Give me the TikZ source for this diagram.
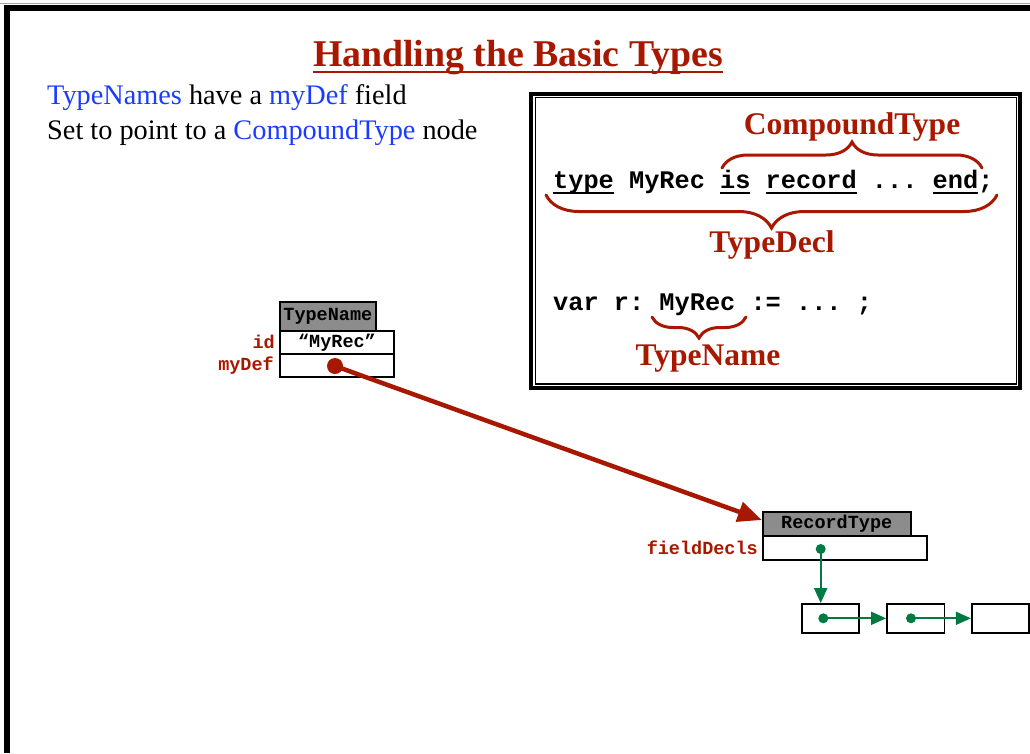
\documentclass[tikz,border=0pt]{standalone}
\usepackage{fontspec}
\setmainfont{Liberation Serif}
\setmonofont{Liberation Mono}
\usetikzlibrary{arrows.meta,decorations.pathreplacing,calc}
\definecolor{hred}{RGB}{168,24,0}
\definecolor{hblue}{RGB}{26,60,255}
\definecolor{hgreen}{RGB}{0,122,64}
\definecolor{hgrey}{RGB}{140,140,140}
\newcommand{\fieldfont}{\ttfamily\bfseries\fontsize{18.5}{20}\selectfont}
\newcommand{\codefont}{\ttfamily\bfseries\fontsize{25.3}{27}\selectfont}
\newcommand{\bracefont}{\bfseries\fontsize{31.5}{33}\selectfont}
\begin{document}
\begin{tikzpicture}[x=1pt,y=-1pt,
  field/.style={draw=black,line width=1.8pt,fill=white,inner sep=0pt,font=\fieldfont},
  header/.style={field,fill=hgrey},
  fieldlabel/.style={anchor=east,inner sep=0pt,text=hred,font=\fieldfont},
  listbox/.style={draw=black,line width=1.8pt,fill=white,inner sep=0pt,minimum width=57.5pt,minimum height=29pt},
  gdot/.style={circle,fill=hgreen,inner sep=0pt,minimum size=10pt},
  garrow/.style={draw=hgreen,line width=2pt,-{Triangle[length=15pt,width=13pt]}},
  bracestyle/.style={draw=hred,line width=3pt,line cap=round,decorate},
  bracelabel/.style={anchor=base,inner sep=0pt,text=hred,font=\bracefont},
  codeline/.style={anchor=base west,inner sep=0pt,font=\codefont},
  uline/.style={line width=1.7pt}
]
\useasboundingbox (0,0) rectangle (1030,753);

% page frame
\draw[gray!70,line width=1pt] (0,3.5) -- (1030,3.5);
\draw[line width=6pt] (6.5,753) -- (6.5,8) -- (1030,8);

% title
\node[anchor=base,inner sep=0pt,text=hred,font=\bfseries\fontsize{37.8}{40}\selectfont] (title) at (518,66) {Handling the Basic Types};
\draw[hred,line width=2pt] ([yshift=-5.5pt]title.base west) -- ([yshift=-5.5pt]title.base east);

% body text
\node[anchor=base west,inner sep=0pt,font=\fontsize{28.3}{30}\selectfont] (line1) at (47,104)
  {\textcolor{hblue}{TypeNames} have a \textcolor{hblue}{myDef} field};
\node[anchor=base west,inner sep=0pt,font=\fontsize{28.3}{30}\selectfont] (line2) at (47,139)
  {Set to point to a \textcolor{hblue}{CompoundType} node};

% code box
\draw[line width=4pt] (531.3,93.7) rectangle (1020,388);
\draw[line width=1.6pt] (535.5,97.5) rectangle (1016.5,384);

\node[codeline] (code1) at (553,188) {type MyRec is record ... end;};
\node[codeline] (code2) at (553,310) {var r: MyRec := ... ;};
% underlined keywords (character cells of 15.18pt)
\foreach \a/\b in {0/4,11/13,14/20,25/28}
  \draw[uline] ($(code1.base west)+(\a*15.18,4.7)$) -- ($(code1.base west)+(\b*15.18,4.7)$);

% braces
\draw[bracestyle,decoration={brace,amplitude=26pt}] (722,168) -- (982,168);
\node[bracelabel] (lblCompound) at (852,134) {CompoundType};
\draw[bracestyle,decoration={brace,amplitude=33pt}] (997,195) -- (546,195);
\node[bracelabel] (lblDecl) at (772,252) {TypeDecl};
\draw[bracestyle,decoration={brace,amplitude=21pt}] (746,317) -- (652,317);
\node[bracelabel] (lblName) at (708,365) {TypeName};

% TypeName record
\node[header,minimum width=95.7pt,minimum height=28.7pt] (tnHead) at (327.85,316.35) {TypeName};
\node[field,minimum width=114pt,minimum height=23.3pt] (tnId) at (337,342.35) {“MyRec”};
\node[field,minimum width=114pt,minimum height=23pt] (tnDef) at (337,365.5) {};
\node[fieldlabel] (lblId) at (275,342) {id};
\node[fieldlabel] (lblDef) at (274,366) {myDef};
\node[circle,fill=hred,inner sep=0pt,minimum size=16pt] (tnDot) at (335,366) {};

% RecordType record
\node[header,minimum width=148pt,minimum height=24pt] (rtHead) at (836.7,524) {RecordType};
\node[field,minimum width=164pt,minimum height=24pt] (rtFields) at (844.7,548) {};
\node[fieldlabel] (lblFields) at (758,548) {fieldDecls};
\node[gdot] (rtDot) at (820.7,549) {};

% field list
\node[listbox] (b1) at (830.5,618.5) {};
\node[listbox] (b2) at (915.7,618.5) {};
\node[listbox] (b3) at (1000.5,618.5) {};
\node[gdot] (d1) at (823.3,618.3) {};
\node[gdot] (d2) at (911,618.3) {};

% pointers
\draw[hred,line width=4.5pt,-{Triangle[length=24pt,width=20pt]}] (tnDot.center) -- ([yshift=4pt]rtHead.west);
\draw[garrow] (rtDot.center) -- (rtDot.center |- b1.north);
\draw[garrow] (d1.center) -- (d1.center -| b2.west);
\draw[garrow] (d2.center) -- (d2.center -| b3.west);
\end{tikzpicture}
\end{document}
